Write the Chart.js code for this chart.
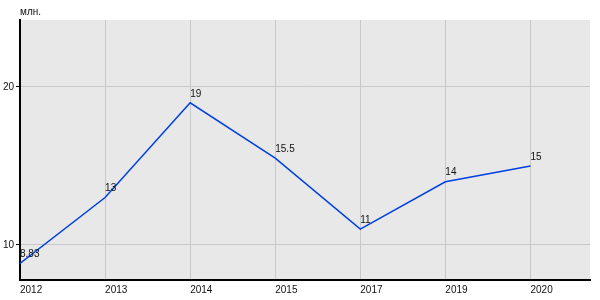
<!DOCTYPE html>
<html>
<head>
<meta charset="utf-8">
<script src="https://cdn.jsdelivr.net/npm/chart.js@4"></script>
<style>
  html, body { margin: 0; padding: 0; background: #fff; }
  #wrap { width: 600px; height: 300px; }
</style>
</head>
<body>
<div id="wrap"><canvas id="c" width="600" height="300"></canvas></div>
<script>
// ===== DATA =====
const years = ['2012', '2013', '2014', '2015', '2017', '2019', '2020'];
const values = [8.83, 13, 19, 15.5, 11, 14, 15];
const valueLabels = ['8.83', '13', '19', '15.5', '11', '14', '15'];
const yTicks = [10, 20];
const unitLabel = 'млн.';

const FONT = 'Arial, "Liberation Sans", sans-serif';

// gray plot background + unit label
const bgPlugin = {
  id: 'bg',
  beforeDraw(chart) {
    const { ctx, chartArea: a } = chart;
    ctx.save();
    ctx.fillStyle = '#e8e8e8';
    ctx.fillRect(a.left, a.top, a.right - a.left, a.bottom - a.top);
    ctx.fillStyle = '#111';
    ctx.font = '10px ' + FONT;
    ctx.textAlign = 'left';
    ctx.textBaseline = 'middle';
    ctx.fillText(unitLabel, a.left, 12);
    ctx.restore();
  }
};

// value labels above each point
const labelPlugin = {
  id: 'vlabels',
  afterDatasetsDraw(chart) {
    const { ctx } = chart;
    const meta = chart.getDatasetMeta(0);
    ctx.save();
    ctx.fillStyle = '#111';
    ctx.font = '10px ' + FONT;
    ctx.textAlign = 'left';
    ctx.textBaseline = 'bottom';
    meta.data.forEach((pt, i) => {
      ctx.fillText(valueLabels[i], pt.x, pt.y - 4);
    });
    ctx.restore();
  }
};

new Chart(document.getElementById('c'), {
  type: 'line',
  data: {
    datasets: [{
      data: values.map((v, i) => ({ x: i, y: v })),
      borderColor: '#0040e0',
      borderWidth: 1.5,
      pointRadius: 0,
      tension: 0,
      fill: false
    }]
  },
  options: {
    responsive: false,
    animation: false,
    layout: { padding: { top: 20, right: 10, left: 0, bottom: 0 } },
    plugins: { legend: { display: false }, tooltip: { enabled: false } },
    scales: {
      x: {
        type: 'linear',
        min: 0,
        max: 6.7,
        afterBuildTicks: s => { s.ticks = years.map((y, i) => ({ value: i })); },
        afterFit: s => { s.height = 20; },
        grid: { color: '#c8c8c8', drawTicks: false },
        border: { color: '#000', width: 2 },
        ticks: {
          align: 'start',
          padding: 4,
          color: '#111',
          font: { size: 10, family: FONT },
          maxRotation: 0,
          autoSkip: false,
          callback: v => years[v]
        }
      },
      y: {
        min: 7.78,
        max: 24.24,
        afterBuildTicks: s => { s.ticks = yTicks.map(v => ({ value: v })); },
        afterFit: s => { s.width = 20; },
        grid: { color: '#c8c8c8', tickColor: '#000', tickLength: 4 },
        border: { color: '#000', width: 2 },
        ticks: {
          padding: 2,
          color: '#111',
          font: { size: 10, family: FONT },
          callback: v => String(v)
        }
      }
    }
  },
  plugins: [bgPlugin, labelPlugin]
});
</script>
</body>
</html>
